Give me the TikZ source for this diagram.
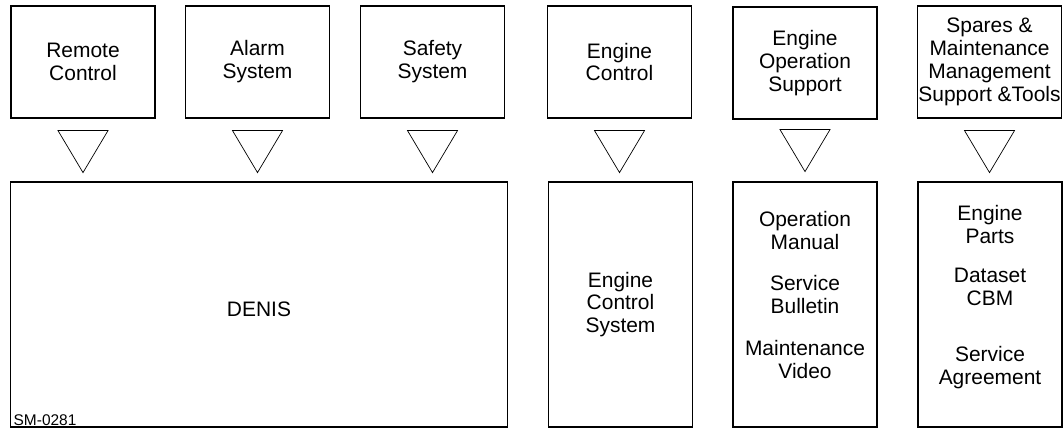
\documentclass[tikz,border=0pt]{standalone}
\usepackage{fontspec}
\setmainfont{Liberation Sans}
\usetikzlibrary{positioning, calc}

\begin{document}
\begin{tikzpicture}[
    x=0.025cm, y=-0.025cm,
    font=\fontsize{14.9}{16.3}\selectfont,
    sysbox/.style={draw, rectangle, line width=0.8pt, minimum width=3.6cm, minimum height=2.8cm, align=center, inner sep=0pt},
    toolbox/.style={draw, rectangle, line width=0.8pt, minimum width=3.6cm, minimum height=6.125cm, align=center, inner sep=0pt},
    itemtext/.style={align=center, inner sep=0pt},
    tag/.style={font=\fontsize{11}{12}\selectfont, inner sep=0pt, anchor=base west}
]
    \useasboundingbox (0,0) rectangle (1063,430);

    % down pointing triangle between the rows
    \tikzset{
        downtri/.pic={
            \draw[line width=0.5pt] (-25,0) -- (25,0) -- (0,42) -- cycle;
        }
    }

    % ================= TOP ROW =================
    \node[sysbox] (remote) at (83, 62) {Remote\\Control};
    \node[sysbox] (alarm) at (257.5, 62) {Alarm\\System};
    \node[sysbox] (safety) at (432.5, 62) {Safety\\System};
    \node[sysbox] (engctl) at (619.5, 62) {Engine\\Control};
    \node[sysbox] (engop) at (805, 63) {Engine\\Operation\\Support};
    \node[sysbox] (spares) at (989.5, 62) {Spares \&\\Maintenance\\Management\\Support \&Tools};

    % ================= BOTTOM ROW =================
    \node[toolbox, minimum width=12.4cm] (denis) at (259, 304.5) {};
    \node[toolbox] (ecs) at (620.5, 304.5) {Engine\\Control\\System};
    \node[toolbox] (opsup) at (805, 304.5) {};
    \node[toolbox] (spsup) at (990, 304.5) {};

    \node[itemtext] (denis_txt) at (denis.center) [yshift=-0.13cm] {DENIS};
    \node[itemtext] (opsup_txt) at (opsup.center) [yshift=0.24cm]
        {Operation\\Manual\\[13.5pt]Service\\Bulletin\\[13.5pt]Maintenance\\Video};
    \node[itemtext] (spsup_txt) at (spsup.center) [yshift=0.18cm]
        {Engine\\Parts\\[11pt]Dataset\\CBM\\[24pt]Service\\Agreement};

    \node[tag] (drawno) at ($(denis.south west)+(3,-2)$) {SM-0281};

    % ================= TRIANGLES =================
    \pic at ($(remote.south)+(0,12)$) {downtri};
    \pic at ($(alarm.south)+(0,12)$) {downtri};
    \pic at ($(safety.south)+(0,12)$) {downtri};
    \pic at ($(engctl.south)+(0,12)$) {downtri};
    \pic at ($(engop.south)+(0,10)$) {downtri};
    \pic at ($(spares.south)+(0,12)$) {downtri};

\end{tikzpicture}
\end{document}
